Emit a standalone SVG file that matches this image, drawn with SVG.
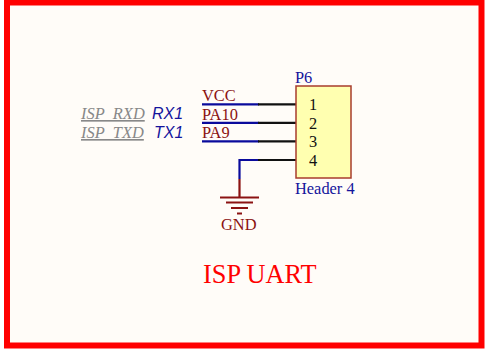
<svg xmlns="http://www.w3.org/2000/svg" width="490" height="352" viewBox="0 0 490 352">
<style>
.t{font-family:"Liberation Serif","Times New Roman",serif;font-size:16.400px}
.net{fill:#8b1212}
.blue{fill:#14149c}
.wire{stroke:#0a0a9c;stroke-width:2.200;fill:none}
.pin{stroke:#111;stroke-width:2.200;fill:none}
.pwr{stroke:#8b1212;stroke-width:2.200;fill:none}
.gray{font-family:"Liberation Serif",serif;font-size:16.400px;font-style:italic;fill:#888}
.ital{font-family:"Liberation Sans",Arial,sans-serif;font-size:16px;font-style:italic;fill:#14149c}
</style>
<rect width="490" height="352" fill="#fff"/>
<rect x="7" y="2.500" width="474.500" height="343" fill="#fffcf8" stroke="#ff0000" stroke-width="6"/>
<g id="connectors">
<path class="wire" d="M202 104.300H259M202 122.800H259M202 141.300H259M259 160H239.500V179"/>
<path class="pin" d="M258 104.300H296M258 122.800H296M258 141.300H296M258 160H296"/>
</g>
<g id="P6">
<rect x="296" y="86" width="55" height="92" fill="#ffffb0" stroke="#a83c2c" stroke-width="1.500"/>
<text class="t blue" x="295" y="83">P6</text>
<text class="t" x="309" y="110" fill="#111">1</text>
<text class="t" x="309" y="129" fill="#111">2</text>
<text class="t" x="309" y="147" fill="#111">3</text>
<text class="t" x="309" y="166" fill="#111">4</text>
<text class="t blue" x="295" y="194">Header 4</text>
</g>
<g id="GND">
<path class="pwr" d="M239.500 179V197M220 197.500H259M226 202.500H253M231 208H248M237 213.500H242"/>
<text class="t net" x="221" y="230">GND</text>
</g>
<g id="VCC"><text class="t net" x="202" y="101">VCC</text></g>
<g id="PA10"><text class="t net" x="202" y="119.500">PA10</text></g>
<g id="PA9"><text class="t net" x="202" y="138">PA9</text></g>
<g id="ISP_RXD"><text class="gray" x="81" y="119" text-decoration="underline">ISP_RXD</text></g>
<g id="ISP_TXD"><text class="gray" x="81" y="138" text-decoration="underline">ISP_TXD</text></g>
<g id="RX1"><text class="ital" x="152" y="119">RX1</text></g>
<g id="TX1"><text class="ital" x="154" y="138">TX1</text></g>
<g id="title"><text x="203" y="283" font-family="'Liberation Serif',serif" font-size="26.300" fill="#ff0000">ISP UART</text></g>
</svg>
